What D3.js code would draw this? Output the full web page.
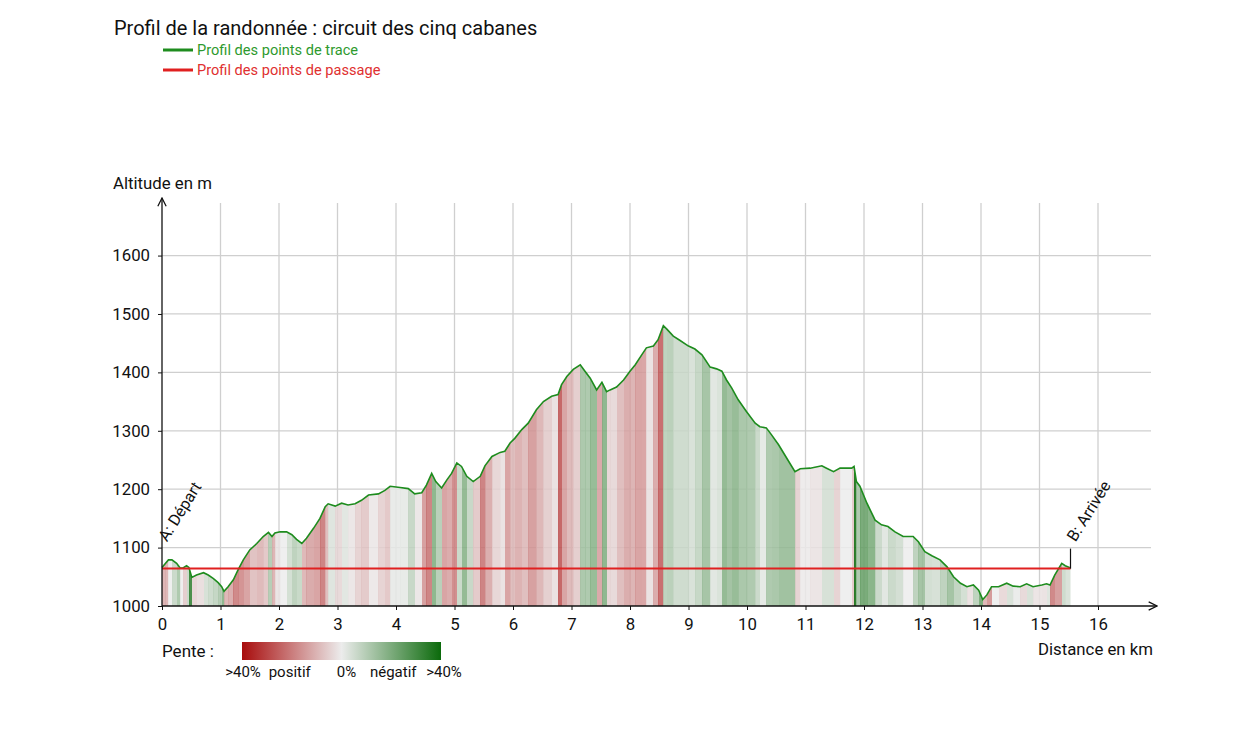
<!DOCTYPE html>
<html>
<head>
<meta charset="utf-8">
<script src="https://cdn.jsdelivr.net/npm/d3@7"></script>
<style>
  body { margin: 0; background: #fff; }
  svg { display: block; font-family: Roboto, "Noto Sans", sans-serif; }
</style>
</head>
<body>
<div id="chart"></div>
<script>
// distance (km) / altitude (m) of the track points
const distances = [0.00,0.05,0.11,0.17,0.25,0.31,0.36,0.42,0.46,0.51,0.59,0.71,0.79,0.88,0.96,1.02,1.06,1.13,1.22,1.30,
  1.39,1.50,1.62,1.73,1.82,1.88,1.93,2.02,2.13,2.22,2.30,2.39,2.47,2.59,2.70,2.79,2.84,2.96,3.07,3.18,
  3.30,3.41,3.53,3.70,3.81,3.90,4.07,4.21,4.32,4.44,4.52,4.61,4.68,4.78,4.87,4.95,5.04,5.12,5.21,5.32,
  5.44,5.52,5.64,5.78,5.86,5.95,6.03,6.15,6.26,6.40,6.52,6.66,6.77,6.83,6.92,7.03,7.15,7.23,7.32,7.43,
  7.52,7.60,7.66,7.77,7.89,8.00,8.09,8.20,8.28,8.40,8.48,8.57,8.63,8.74,8.85,9.00,9.11,9.23,9.37,9.48,
  9.57,9.65,9.74,9.85,9.99,10.14,10.22,10.33,10.42,10.54,10.68,10.82,10.91,11.08,11.28,11.36,11.48,11.59,11.79,11.83,
  11.87,11.93,12.05,12.19,12.30,12.41,12.53,12.67,12.84,12.93,13.04,13.16,13.30,13.42,13.53,13.65,13.76,13.87,13.96,14.03,
  14.10,14.18,14.30,14.44,14.55,14.67,14.78,14.89,15.04,15.12,15.18,15.26,15.38,15.44,15.53];
const altitudes = [1066,1072,1079,1079,1073,1065,1065,1069,1066,1049,1053,1057,1053,1047,1040,1033,1025,1033,1045,1062,
  1079,1096,1107,1119,1126,1119,1125,1127,1127,1122,1114,1107,1116,1133,1150,1170,1175,1171,1176,1173,
  1175,1181,1190,1192,1198,1205,1203,1201,1192,1194,1207,1227,1213,1202,1216,1227,1245,1239,1222,1213,
  1222,1240,1256,1263,1265,1279,1287,1302,1313,1336,1350,1359,1362,1379,1393,1405,1413,1402,1390,1370,
  1383,1367,1370,1375,1387,1402,1413,1430,1442,1445,1456,1480,1474,1462,1455,1445,1440,1430,1409,1406,
  1402,1387,1373,1353,1333,1313,1307,1305,1293,1276,1253,1230,1235,1236,1240,1236,1230,1236,1236,1239,
  1213,1205,1176,1147,1139,1136,1127,1119,1119,1110,1093,1086,1079,1067,1050,1039,1033,1036,1027,1011,
  1019,1033,1033,1039,1034,1033,1038,1033,1036,1038,1036,1053,1073,1069,1065];

// waypoints (points de passage)
const waypointNames = ["A: Départ", "B: Arrivée"];
const waypointDistances = [0, 15.53];
const waypointAltitudes = [1064, 1064];

const xTicks = d3.range(0, 17);
const yTicks = [1000, 1100, 1200, 1300, 1400, 1500, 1600];
const slopeLabels = [">40%", "positif", "0%", "négatif", ">40%"];

const track = distances.map((d, i) => ({ d: d, alt: altitudes[i] }));
const waypoints = waypointNames.map((n, i) => ({ name: n, d: waypointDistances[i], alt: waypointAltitudes[i] }));

const W = 1242, H = 751;
const svg = d3.select("#chart").append("svg").attr("width", W).attr("height", H);

const x = d3.scaleLinear().domain([0, 16]).range([162, 1098]);
const y = d3.scaleLinear().domain([1000, 1690]).range([606, 203]);

// slope colour: uphill red, downhill green
const slopeColor = d3.scaleLinear()
  .domain([-0.4, 0, 0.4])
  .range(["#0b6a0b", "#ececec", "#a80c0c"])
  .clamp(true);

// title + legend
svg.append("text").attr("x", 114).attr("y", 35)
  .attr("font-size", 20).attr("fill", "#111")
  .text("Profil de la randonnée : circuit des cinq cabanes");

const legendItems = [
  { label: "Profil des points de trace", color: "#1e8c1e", text: "#2e9a2e" },
  { label: "Profil des points de passage", color: "#e02020", text: "#e03030" }
];
legendItems.forEach((it, i) => {
  const yy = 50 + i * 20;
  svg.append("line").attr("x1", 163).attr("x2", 193).attr("y1", yy).attr("y2", yy)
    .attr("stroke", it.color).attr("stroke-width", 3);
  svg.append("text").attr("x", 197).attr("y", yy + 5)
    .attr("font-size", 14.6).attr("fill", it.text).text(it.label);
});

// grid
const grid = svg.append("g").attr("stroke", "#cfcfcf").attr("stroke-width", 1.3);
grid.selectAll("line.v").data(xTicks.filter(d => d > 0)).join("line")
  .attr("x1", d => x(d)).attr("x2", d => x(d))
  .attr("y1", y(1000)).attr("y2", y(1690));
grid.selectAll("line.h").data(yTicks.filter(d => d > 1000)).join("line")
  .attr("x1", x(0)).attr("x2", 1151)
  .attr("y1", d => y(d)).attr("y2", d => y(d));

// slope strips clipped under the profile
const area = d3.area().x(p => x(p.d)).y0(y(1000)).y1(p => y(p.alt));
svg.append("clipPath").attr("id", "under")
  .append("path").attr("d", area(track));

const strips = svg.append("g").attr("clip-path", "url(#under)").attr("shape-rendering", "crispEdges");
strips.selectAll("rect").data(track.slice(0, -1)).join("rect")
  .attr("x", (p, i) => x(p.d))
  .attr("width", (p, i) => x(track[i + 1].d) - x(p.d) + 0.6)
  .attr("y", y(1690)).attr("height", y(1000) - y(1690))
  .attr("fill", (p, i) => {
    const slope = (track[i + 1].alt - p.alt) / ((track[i + 1].d - p.d) * 1000);
    return slopeColor(slope);
  })
  .attr("fill-opacity", 0.85);

// profile line
svg.append("path").datum(track)
  .attr("fill", "none").attr("stroke", "#1e8c1e").attr("stroke-width", 1.6)
  .attr("d", d3.line().x(p => x(p.d)).y(p => y(p.alt)));

// waypoint line
svg.append("path").datum(waypoints)
  .attr("fill", "none").attr("stroke", "#e02020").attr("stroke-width", 2)
  .attr("d", d3.line().x(p => x(p.d)).y(p => y(p.alt)));

// waypoint labels
waypoints.forEach((p, i) => {
  const px = x(p.d), py = y(p.alt);
  if (i > 0) {
    svg.append("line").attr("x1", px).attr("x2", px).attr("y1", py).attr("y2", py - 20)
      .attr("stroke", "#111").attr("stroke-width", 1.2);
  }
  svg.append("text")
    .attr("transform", `translate(${px + 5},${py - 26}) rotate(-58)`)
    .attr("font-size", 16).attr("fill", "#111").text(p.name);
});

// axes
svg.append("defs").append("marker").attr("id", "arrow")
  .attr("viewBox", "0 0 10 10").attr("refX", 9).attr("refY", 5)
  .attr("markerWidth", 8).attr("markerHeight", 8).attr("orient", "auto")
  .append("path").attr("d", "M1,1 L9,5 L1,9").attr("fill", "none").attr("stroke", "#111").attr("stroke-width", 1.2);

const xAxis = svg.append("g").attr("transform", `translate(0,${y(1000)})`)
  .call(d3.axisBottom(x).tickValues(xTicks).tickSize(4).tickFormat(d3.format("d")));
xAxis.select(".domain").remove();
xAxis.selectAll("text").attr("font-size", 16.8).attr("font-family", "Roboto").attr("fill", "#111").attr("dy", "1.0em");
xAxis.selectAll("line").attr("stroke", "#111");

const yAxis = svg.append("g").attr("transform", `translate(${x(0)},0)`)
  .call(d3.axisLeft(y).tickValues(yTicks).tickSize(4).tickFormat(d3.format("d")));
yAxis.select(".domain").remove();
yAxis.selectAll("text").attr("font-size", 16.8).attr("font-family", "Roboto").attr("fill", "#111").attr("x", -12);
yAxis.selectAll("line").attr("stroke", "#111");

svg.append("line").attr("x1", x(0)).attr("x2", 1157).attr("y1", y(1000)).attr("y2", y(1000))
  .attr("stroke", "#111").attr("stroke-width", 1.3).attr("marker-end", "url(#arrow)");
svg.append("line").attr("x1", x(0)).attr("x2", x(0)).attr("y1", y(1000)).attr("y2", 198)
  .attr("stroke", "#111").attr("stroke-width", 1.3).attr("marker-end", "url(#arrow)");

svg.append("text").attr("x", 113).attr("y", 189).attr("font-size", 16.8).attr("fill", "#111")
  .text("Altitude en m");
svg.append("text").attr("x", 1153).attr("y", 655).attr("font-size", 16.8).attr("fill", "#111")
  .attr("text-anchor", "end").text("Distance en km");

// slope legend
svg.append("text").attr("x", 162).attr("y", 657).attr("font-size", 17).attr("fill", "#111").text("Pente :");
const grad = svg.append("defs").append("linearGradient").attr("id", "slopeGrad");
[0.4, 0.2, 0, -0.2, -0.4].forEach((s, i) => {
  grad.append("stop").attr("offset", (i * 25) + "%").attr("stop-color", slopeColor(s));
});
const barX = 242, barW = 199;
svg.append("rect").attr("x", barX).attr("y", 642).attr("width", barW).attr("height", 18)
  .attr("fill", "url(#slopeGrad)");
svg.selectAll("text.slope").data(slopeLabels).join("text")
  .attr("class", "slope")
  .attr("x", (d, i) => barX + i * barW / 4 + [1, -2, 5, 2, 3][i])
  .attr("y", 677).attr("font-size", 15).attr("fill", "#111").attr("text-anchor", "middle")
  .text(d => d);
</script>
</body>
</html>
